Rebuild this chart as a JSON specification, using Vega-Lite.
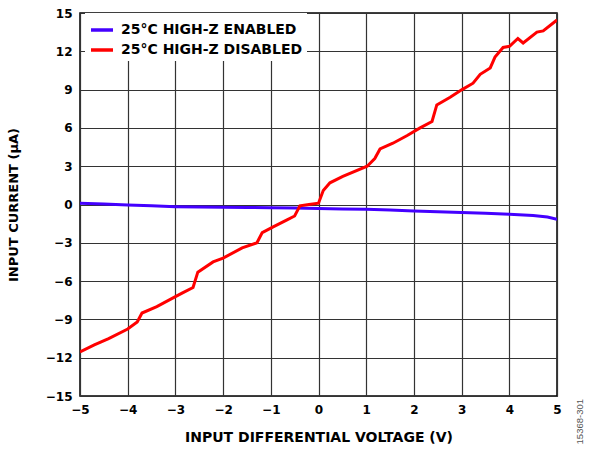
{
  "$schema": "https://vega.github.io/schema/vega-lite/v6.json",
  "width": 477,
  "height": 383,
  "autosize": "none",
  "padding": {"left": 80, "top": 13, "right": 32, "bottom": 53},
  "config": {
    "font": "DejaVu Sans",
    "view": {"stroke": "#000", "strokeWidth": 1.5},
    "axis": {
      "labelFont": "DejaVu Sans", "labelFontWeight": "bold", "labelFontSize": 12, "labelColor": "#000",
      "titleFont": "DejaVu Sans", "titleFontWeight": "bold", "titleFontSize": 13, "titleColor": "#000",
      "gridColor": "#333", "gridWidth": 1.2, "gridOpacity": 1,
      "domain": false, "ticks": false
    }
  },
  "title": {
    "text": "15368-301", "orient": "right", "anchor": "end", "angle": 270,
    "font": "Liberation Sans", "fontSize": 9.5, "fontWeight": "normal", "color": "#555", "offset": 4, "dx": 45
  },
  "data": {"values": [
    {"v": -5, "i": 0.1, "s": "25°C HIGH-Z ENABLED"},
    {"v": -4.5, "i": 0.04, "s": "25°C HIGH-Z ENABLED"},
    {"v": -4, "i": -0.03, "s": "25°C HIGH-Z ENABLED"},
    {"v": -3.5, "i": -0.1, "s": "25°C HIGH-Z ENABLED"},
    {"v": -3, "i": -0.17, "s": "25°C HIGH-Z ENABLED"},
    {"v": -2.5, "i": -0.2, "s": "25°C HIGH-Z ENABLED"},
    {"v": -2, "i": -0.22, "s": "25°C HIGH-Z ENABLED"},
    {"v": -1.5, "i": -0.24, "s": "25°C HIGH-Z ENABLED"},
    {"v": -1, "i": -0.25, "s": "25°C HIGH-Z ENABLED"},
    {"v": -0.5, "i": -0.28, "s": "25°C HIGH-Z ENABLED"},
    {"v": 0, "i": -0.32, "s": "25°C HIGH-Z ENABLED"},
    {"v": 0.5, "i": -0.35, "s": "25°C HIGH-Z ENABLED"},
    {"v": 1, "i": -0.38, "s": "25°C HIGH-Z ENABLED"},
    {"v": 1.5, "i": -0.44, "s": "25°C HIGH-Z ENABLED"},
    {"v": 2, "i": -0.5, "s": "25°C HIGH-Z ENABLED"},
    {"v": 2.5, "i": -0.56, "s": "25°C HIGH-Z ENABLED"},
    {"v": 3, "i": -0.63, "s": "25°C HIGH-Z ENABLED"},
    {"v": 3.5, "i": -0.69, "s": "25°C HIGH-Z ENABLED"},
    {"v": 4, "i": -0.76, "s": "25°C HIGH-Z ENABLED"},
    {"v": 4.5, "i": -0.86, "s": "25°C HIGH-Z ENABLED"},
    {"v": 4.8, "i": -0.98, "s": "25°C HIGH-Z ENABLED"},
    {"v": 5, "i": -1.15, "s": "25°C HIGH-Z ENABLED"},

    {"v": -5, "i": -11.55, "s": "25°C HIGH-Z DISABLED"},
    {"v": -4.7, "i": -11.0, "s": "25°C HIGH-Z DISABLED"},
    {"v": -4.4, "i": -10.5, "s": "25°C HIGH-Z DISABLED"},
    {"v": -4.0, "i": -9.75, "s": "25°C HIGH-Z DISABLED"},
    {"v": -3.8, "i": -9.2, "s": "25°C HIGH-Z DISABLED"},
    {"v": -3.7, "i": -8.5, "s": "25°C HIGH-Z DISABLED"},
    {"v": -3.39, "i": -8.0, "s": "25°C HIGH-Z DISABLED"},
    {"v": -2.99, "i": -7.2, "s": "25°C HIGH-Z DISABLED"},
    {"v": -2.84, "i": -6.9, "s": "25°C HIGH-Z DISABLED"},
    {"v": -2.63, "i": -6.5, "s": "25°C HIGH-Z DISABLED"},
    {"v": -2.53, "i": -5.3, "s": "25°C HIGH-Z DISABLED"},
    {"v": -2.21, "i": -4.5, "s": "25°C HIGH-Z DISABLED"},
    {"v": -2.0, "i": -4.2, "s": "25°C HIGH-Z DISABLED"},
    {"v": -1.6, "i": -3.4, "s": "25°C HIGH-Z DISABLED"},
    {"v": -1.29, "i": -3.0, "s": "25°C HIGH-Z DISABLED"},
    {"v": -1.18, "i": -2.2, "s": "25°C HIGH-Z DISABLED"},
    {"v": -0.95, "i": -1.75, "s": "25°C HIGH-Z DISABLED"},
    {"v": -0.66, "i": -1.2, "s": "25°C HIGH-Z DISABLED"},
    {"v": -0.5, "i": -0.9, "s": "25°C HIGH-Z DISABLED"},
    {"v": -0.39, "i": -0.1, "s": "25°C HIGH-Z DISABLED"},
    {"v": -0.2, "i": 0.0, "s": "25°C HIGH-Z DISABLED"},
    {"v": 0.0, "i": 0.1, "s": "25°C HIGH-Z DISABLED"},
    {"v": 0.1, "i": 1.1, "s": "25°C HIGH-Z DISABLED"},
    {"v": 0.24, "i": 1.7, "s": "25°C HIGH-Z DISABLED"},
    {"v": 0.51, "i": 2.2, "s": "25°C HIGH-Z DISABLED"},
    {"v": 1.02, "i": 3.0, "s": "25°C HIGH-Z DISABLED"},
    {"v": 1.18, "i": 3.6, "s": "25°C HIGH-Z DISABLED"},
    {"v": 1.29, "i": 4.35, "s": "25°C HIGH-Z DISABLED"},
    {"v": 1.56, "i": 4.8, "s": "25°C HIGH-Z DISABLED"},
    {"v": 1.86, "i": 5.4, "s": "25°C HIGH-Z DISABLED"},
    {"v": 2.13, "i": 6.0, "s": "25°C HIGH-Z DISABLED"},
    {"v": 2.38, "i": 6.5, "s": "25°C HIGH-Z DISABLED"},
    {"v": 2.48, "i": 7.8, "s": "25°C HIGH-Z DISABLED"},
    {"v": 2.76, "i": 8.4, "s": "25°C HIGH-Z DISABLED"},
    {"v": 3.01, "i": 9.0, "s": "25°C HIGH-Z DISABLED"},
    {"v": 3.24, "i": 9.5, "s": "25°C HIGH-Z DISABLED"},
    {"v": 3.39, "i": 10.2, "s": "25°C HIGH-Z DISABLED"},
    {"v": 3.6, "i": 10.7, "s": "25°C HIGH-Z DISABLED"},
    {"v": 3.7, "i": 11.55, "s": "25°C HIGH-Z DISABLED"},
    {"v": 3.87, "i": 12.3, "s": "25°C HIGH-Z DISABLED"},
    {"v": 4.01, "i": 12.4, "s": "25°C HIGH-Z DISABLED"},
    {"v": 4.18, "i": 13.0, "s": "25°C HIGH-Z DISABLED"},
    {"v": 4.29, "i": 12.65, "s": "25°C HIGH-Z DISABLED"},
    {"v": 4.58, "i": 13.5, "s": "25°C HIGH-Z DISABLED"},
    {"v": 4.71, "i": 13.6, "s": "25°C HIGH-Z DISABLED"},
    {"v": 5.0, "i": 14.45, "s": "25°C HIGH-Z DISABLED"}
  ]},
  "mark": {"type": "line", "strokeWidth": 3, "clip": true},
  "encoding": {
    "x": {
      "field": "v", "type": "quantitative",
      "scale": {"domain": [-5, 5], "nice": false, "zero": false},
      "axis": {"values": [-5, -4, -3, -2, -1, 0, 1, 2, 3, 4, 5], "title": "INPUT DIFFERENTIAL VOLTAGE (V)", "titleFontSize": 14, "labelPadding": 8, "titlePadding": 15, "labelFlush": false, "format": "d"}
    },
    "y": {
      "field": "i", "type": "quantitative",
      "scale": {"domain": [-15, 15], "nice": false, "zero": false},
      "axis": {"values": [-15, -12, -9, -6, -3, 0, 3, 6, 9, 12, 15], "title": "INPUT CURRENT (µA)", "labelPadding": 8, "titlePadding": 25, "labelFlush": false, "format": "d"}
    },
    "color": {
      "field": "s", "type": "nominal",
      "scale": {"domain": ["25°C HIGH-Z ENABLED", "25°C HIGH-Z DISABLED"], "range": ["#4400ff", "#ff0000"]},
      "sort": ["25°C HIGH-Z ENABLED", "25°C HIGH-Z DISABLED"],
      "legend": {
        "title": null, "orient": "none", "legendX": 5, "legendY": 0,
        "fillColor": "#fff", "padding": 4,
        "symbolType": "stroke", "symbolSize": 484, "symbolStrokeWidth": 3.5,
        "labelFont": "DejaVu Sans", "labelFontWeight": "bold", "labelFontSize": 14, "labelColor": "#000",
        "labelOffset": 6, "rowPadding": -4, "labelLimit": 400
      }
    }
  }
}
